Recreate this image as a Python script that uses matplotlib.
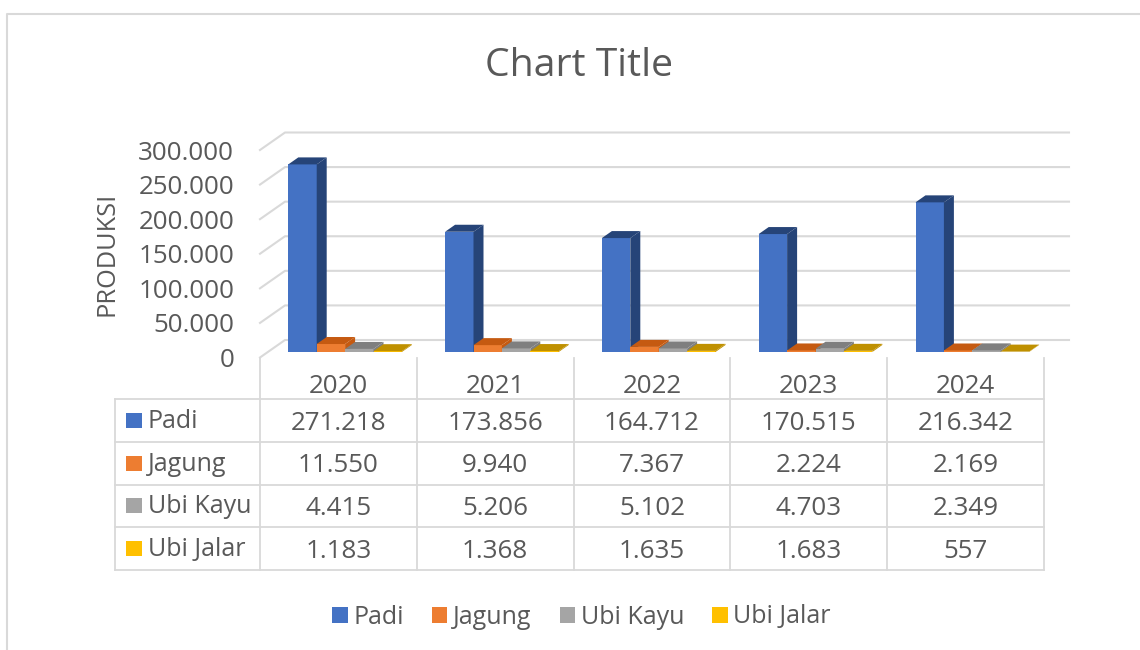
import matplotlib
matplotlib.use("Agg")
import matplotlib.pyplot as plt
from matplotlib.patches import Patch, Polygon, Rectangle

years = ["2020", "2021", "2022", "2023", "2024"]
series_names = ["Padi", "Jagung", "Ubi Kayu", "Ubi Jalar"]
padi = [271218, 173856, 164712, 170515, 216342]
jagung = [11550, 9940, 7367, 2224, 2169]
ubi_kayu = [4415, 5206, 5102, 4703, 2349]
ubi_jalar = [1183, 1368, 1635, 1683, 557]
y_ticks = [0, 50000, 100000, 150000, 200000, 250000, 300000]

front_colors = ["#4472C4", "#ED7D31", "#A5A5A5", "#FFC000"]
side_colors = ["#264478", "#C55A11", "#7F7F7F", "#BF9000"]
text_color = "#595959"
line_color = "#D9D9D9"

W, H = 1140, 650
plt.rcParams["font.family"] = ["Open Sans", "DejaVu Sans"]
FS = 18.7


def fmt(v):
    return f"{v:,}".replace(",", ".")


fig = plt.figure(figsize=(W / 100, H / 100), dpi=100, facecolor="white")

# overlay in pixel coords for the frame and the data table
page = fig.add_axes([0, 0, 1, 1])
page.set_xlim(0, W)
page.set_ylim(H, 0)
page.axis("off")

# main plot, front plane of the 3D box
left, right, y_zero, y_top = 260, 1044, 357.5, 150
ax = fig.add_axes([left / W, 1 - y_zero / H, (right - left) / W, (y_zero - y_top) / H])
ax.patch.set_alpha(0)
ax.set_xlim(0, len(years))
ax.set_ylim(0, 300000)
for s in ax.spines.values():
    s.set_visible(False)
ax.set_xticks([])
ax.set_yticks(y_ticks)
ax.set_yticklabels([fmt(v) for v in y_ticks], fontsize=FS, color=text_color, va="center_baseline")
ax.tick_params(axis="y", length=0, pad=18.5)

px_x = (right - left) / len(years)
px_y = (y_zero - y_top) / 300000

# depth of the floor and walls, in data units
wall_dx, wall_dy = 25 / px_x, 17.5 / px_y
for v in y_ticks:
    ax.plot([0, wall_dx, len(years) + wall_dx], [v, v + wall_dy, v + wall_dy],
            color=line_color, lw=1.5, clip_on=False, zorder=1)

bar_w = 28.4 / px_x
floor_dx, floor_dy = 6.7 / px_x, 5.5 / px_y
depth_dx, depth_dy = 10 / px_x, 7 / px_y

all_values = [padi, jagung, ubi_kayu, ubi_jalar]
for k, vals in enumerate(all_values):
    for i, v in enumerate(vals):
        x0 = i + 0.5 + floor_dx + (k - 2) * bar_w
        x1 = x0 + bar_w
        b = floor_dy
        t = floor_dy + v
        ax.bar(x0, v, width=bar_w, bottom=b, align="edge", color=front_colors[k],
               clip_on=False, zorder=3 + k)
        ax.add_patch(Polygon([(x1, b), (x1 + depth_dx, b + depth_dy),
                              (x1 + depth_dx, t + depth_dy), (x1, t)],
                             closed=True, facecolor=side_colors[k], edgecolor="none",
                             clip_on=False, zorder=3 + k))
        ax.add_patch(Polygon([(x0, t), (x0 + depth_dx, t + depth_dy),
                              (x1 + depth_dx, t + depth_dy), (x1, t)],
                             closed=True, facecolor=side_colors[k], edgecolor="none",
                             clip_on=False, zorder=3 + k))

# outer frame
page.plot([7, 7, W], [H, 14, 14], color=line_color, lw=1.5)

# data table
col_x = [260, 416.8, 573.6, 730.4, 887.2, 1044]
row_y = [399.3, 442, 484.7, 527, 570]
for x in col_x:
    page.plot([x, x], [357.5, 570], color=line_color, lw=1.3)
page.plot([115, 115], [row_y[0], row_y[-1]], color=line_color, lw=1.3)
for y in row_y:
    page.plot([115, 1044], [y, y], color=line_color, lw=1.3)

for i, yr in enumerate(years):
    page.text((col_x[i] + col_x[i + 1]) / 2, 383.5, yr, ha="center", va="center_baseline",
              fontsize=FS, color=text_color)

for k, name in enumerate(series_names):
    yc = (row_y[k] + row_y[k + 1]) / 2
    page.add_patch(Rectangle((125.7, yc - 7.5), 16, 15, facecolor=front_colors[k], edgecolor="none"))
    page.text(147.5, yc - 2, name, ha="left", va="center_baseline", fontsize=18, color=text_color)
    for i, v in enumerate(all_values[k]):
        page.text((col_x[i] + col_x[i + 1]) / 2, yc - 0.5, fmt(v), ha="center", va="center_baseline",
                  fontsize=FS, color=text_color)

page.text(579, 66, "Chart Title", ha="center", va="center", fontsize=28.2, color=text_color)
page.text(107.5, 254, "PRODUKSI", ha="center", va="center", rotation=90, fontsize=18.3, color=text_color)

handles = [Patch(facecolor=c, edgecolor="none", label=n) for c, n in zip(front_colors, series_names)]
fig.legend(handles=handles, loc="center", bbox_to_anchor=(581.5 / W, 1 - 617 / H), ncols=4,
           frameon=False, fontsize=18, labelcolor=text_color, handlelength=0.62, handleheight=0.62,
           handletextpad=0.22, columnspacing=1.13, borderpad=0)

fig.savefig("out.png", dpi=100)
